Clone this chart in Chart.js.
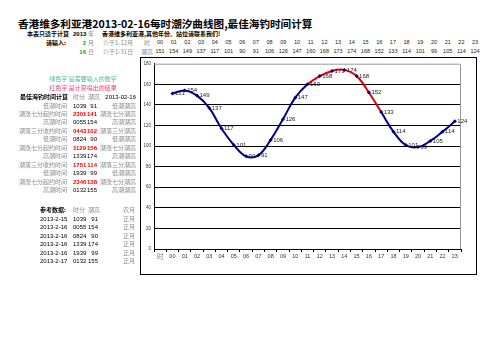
<!DOCTYPE html>
<html><head><meta charset="utf-8">
<script src="https://cdn.jsdelivr.net/npm/chart.js@4/dist/chart.umd.min.js"></script>
<style>
html,body{margin:0;padding:0;background:#fff;}
body{width:503px;height:356px;overflow:hidden;position:relative;font-family:"Noto Sans CJK SC",sans-serif;}
.t{position:absolute;white-space:nowrap;line-height:1;}
#frame{position:absolute;left:140px;top:57px;width:335px;height:216px;border:1px solid #000;}
#wrap{position:relative;width:335px;height:216px;}
</style></head>
<body>
<div id="frame"><div id="wrap"><canvas id="c"></canvas></div></div>
<script>
// ---- data ----
const title = '香港维多利亚港2013-02-16每时潮汐曲线图,最佳海钓时间计算';
const hours = ['00','01','02','03','04','05','06','07','08','09','10','11','12','13','14','15','16','17','18','19','20','21','22','23'];
const xLabels = ['时'].concat(hours);
const tide = [151,154,149,137,117,101,90,91,106,126,147,160,168,173,174,168,152,133,114,101,99,105,114,124];
const yMax = 180, yStep = 20;
const redFrom = '11', redTo = '17';

const calcLabels = ['低潮时间','潮涨七分起约时间','高潮时间','潮落三分收约时间','低潮时间','潮涨七分起约时间','高潮时间','潮落三分收约时间','低潮时间','潮涨七分起约时间','高潮时间'];
const calcTimes  = ['1039','2301','0055','0443','0824','1129','1339','1751','1939','2346','0132'];
const calcHeights= ['91','141','154','102','90','156','174','114','99','138','155'];
const calcRight  = ['低潮潮高','潮涨七分潮高','高潮潮高','潮落三分潮高','低潮潮高','潮涨七分潮高','高潮潮高','潮落三分潮高','低潮潮高','潮涨七分潮高','高潮潮高'];
const calcIsResult = [false,true,false,true,false,true,false,true,false,true,false];

const refDates  = ['2013-2-15','2013-2-16','2013-2-16','2013-2-16','2013-2-16','2013-2-17'];
const refTimes  = ['1039','0055','0824','1339','1939','0132'];
const refHeights= ['91','154','90','174','99','155'];
const refMonth  = ['正月','正月','正月','正月','正月','正月'];

// ---- text helper ----
const NUM = '"Liberation Sans",Arial,sans-serif';
function T(txt, x, y, o){
  o = o || {};
  const s = o.size || 6;
  const d = document.createElement('div');
  d.className = 't';
  d.textContent = txt;
  d.style.fontSize = s + 'px';
  d.style.color = o.color || '#8a8a8a';
  if (o.bold) d.style.fontWeight = 'bold';
  if (o.family) d.style.fontFamily = o.family;
  d.style.top = (y - s/2) + 'px';
  const a = o.align || 'l';
  if (a === 'l') { d.style.left = x + 'px'; }
  else if (a === 'r') { d.style.left = (x - 300) + 'px'; d.style.width = '300px'; d.style.textAlign = 'right'; }
  else { d.style.left = (x - 150) + 'px'; d.style.width = '300px'; d.style.textAlign = 'center'; }
  document.body.appendChild(d);
}

// title & header rows
T(title, 18, 24, {size:10.6, bold:true, color:'#000'});
T('本表只适于计算', 27, 34, {bold:true, color:'#000'});
T('2013', 73, 34, {bold:true, color:'#000', family:NUM});
T('年', 88, 34);
T('香港维多利亚港,其他年份、站位请联系我们!', 102, 34, {bold:true, color:'#000'});
T('请输入:', 46, 43, {bold:true, color:'#000'});
T('2', 86, 43, {bold:true, color:'#00a050', family:NUM, align:'r'});
T('月', 88, 43);
T('介于1-12月', 103, 43);
T('16', 86, 52, {bold:true, color:'#00a050', family:NUM, align:'r'});
T('日', 88, 52);
T('介于1-31日', 103, 52);
T('时', 147, 43, {align:'c'});
T('潮高', 147, 52, {align:'c'});
hours.forEach((h,i)=>{
  const x = 160 + i*13.7;
  T(h, x, 43, {size:5.5, color:'#222', family:NUM, align:'c'});
  T(String(tide[i]), x, 52, {size:5.5, color:'#222', family:NUM, align:'c'});
});

// legend notes
T('绿色字 是需要输入的数字', 83, 79, {color:'#55c08e', align:'c'});
T('红色字 是计算得出的结果', 83, 88, {color:'#f0407a', align:'c'});

// calc table
T('最佳海钓时间计算', 68, 97, {bold:true, color:'#000', align:'r'});
T('时分', 73, 97);
T('潮高', 88, 97);
T('2013-02-16', 136, 97, {color:'#000', family:NUM, align:'r'});
calcLabels.forEach((lab,i)=>{
  const y = 105.5 + i*8.45;
  const res = calcIsResult[i];
  T(lab, 67, y, {align:'r'});
  T(calcTimes[i], 73, y, {color: res ? '#ff0000' : '#000', bold:res, family:NUM});
  T(calcHeights[i], 97, y, {color: res ? '#ff0000' : '#000', bold:res, family:NUM, align:'r'});
  T(calcRight[i], 136, y, {align:'r'});
});

// reference table
T('参考数据:', 40, 210, {bold:true, color:'#000'});
T('时分', 73, 210);
T('潮高', 88, 210);
T('农月', 135, 210, {align:'r'});
refDates.forEach((d,i)=>{
  const y = 218.5 + i*8.5;
  T(d, 40, y, {color:'#000', family:NUM});
  T(refTimes[i], 73, y, {color:'#000', family:NUM});
  T(refHeights[i], 98, y, {color:'#000', family:NUM, align:'r'});
  T(refMonth[i], 135, y, {align:'r'});
});

// ---- chart ----
const NAVY = '#000080', RED = '#dd0000';
const r0 = xLabels.indexOf(redFrom), r1 = xLabels.indexOf(redTo);

const plotBorder = {
  id:'plotBorder',
  beforeDatasetsDraw(chart){
    const a = chart.chartArea, c = chart.ctx;
    c.save(); c.strokeStyle = '#999'; c.lineWidth = 1;
    c.beginPath();
    c.moveTo(a.left, a.top + 0.5); c.lineTo(a.right - 0.5, a.top + 0.5); c.lineTo(a.right - 0.5, a.bottom);
    c.stroke(); c.restore();
  }
};
const valueLabels = {
  id:'valueLabels',
  afterDatasetsDraw(chart){
    const c = chart.ctx, meta = chart.getDatasetMeta(0), ds = chart.data.datasets[0];
    c.save();
    c.font = '6px "Liberation Sans", Arial, sans-serif';
    c.fillStyle = '#222'; c.textBaseline = 'middle'; c.textAlign = 'left';
    meta.data.forEach((pt,i)=>{
      const v = ds.data[i];
      if (v == null) return;
      c.fillText(String(v), pt.x + 2.5, pt.y);
    });
    c.restore();
  }
};

new Chart(document.getElementById('c'), {
  type:'line',
  data:{
    labels: xLabels,
    datasets:[{
      data: [null].concat(tide),
      borderColor: NAVY,
      borderWidth: 2,
      tension: 0.4,
      pointStyle: 'rectRot',
      pointRadius: 2,
      pointBackgroundColor: NAVY,
      pointBorderColor: NAVY,
      pointBorderWidth: 0,
      segment:{
        borderColor: ctx => (ctx.p0DataIndex >= r0 && ctx.p0DataIndex < r1) ? RED : NAVY
      }
    }]
  },
  options:{
    responsive:true,
    maintainAspectRatio:false,
    animation:false,
    events:[],
    layout:{padding:{top:4,right:15,left:0,bottom:0}},
    plugins:{legend:{display:false}, tooltip:{enabled:false}},
    scales:{
      x:{
        offset:true,
        afterFit(s){ s.height = 25; },
        grid:{display:true, drawOnChartArea:false, drawTicks:true, tickLength:3, color:'#000', offset:true},
        border:{display:true, color:'#000', width:1},
        ticks:{
          autoSkip:false, maxRotation:0, padding:1,
          font: ctx => ({size: ctx.index === 0 ? 6.5 : 5.5, family: ctx.index === 0 ? '"Noto Sans CJK SC"' : '"Liberation Sans", Arial'}),
          color: ctx => ctx.index === 0 ? '#808080' : '#333'
        }
      },
      y:{
        min:0, max:yMax,
        afterFit(s){ s.width = 13; },
        grid:{color: ctx => ctx.tick && ctx.tick.value === yMax ? 'rgba(0,0,0,0)' : '#000', lineWidth:1, drawTicks:false},
        border:{display:true, color:'#000', width:1},
        ticks:{stepSize:yStep, padding:3, font:{size:4.5, family:'"Liberation Sans", Arial'}, color:'#333'}
      }
    }
  },
  plugins:[plotBorder, valueLabels]
});
</script>
</body></html>
